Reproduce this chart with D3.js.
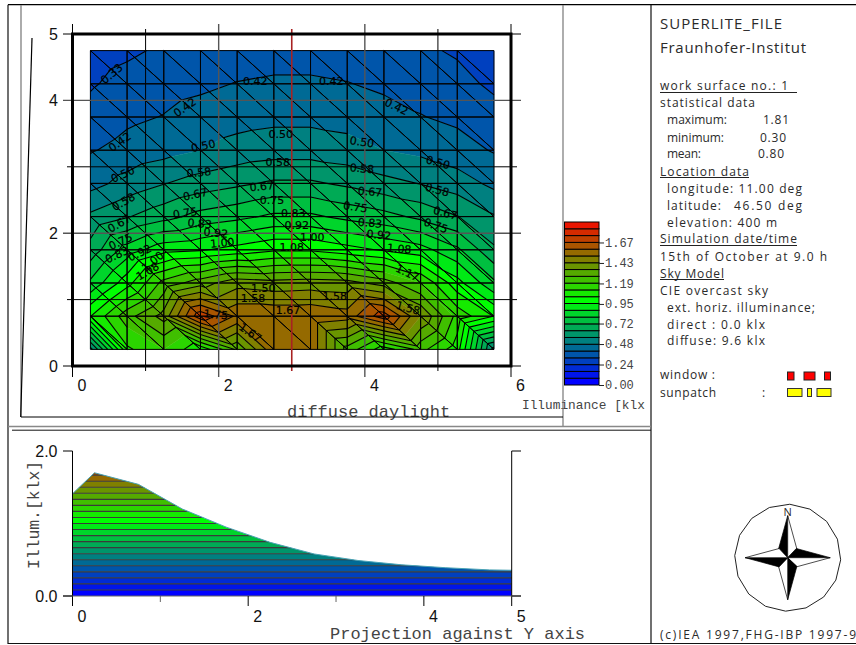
<!DOCTYPE html>
<html>
<head>
<meta charset="utf-8">
<style>
  html, body { margin: 0; padding: 0; background: #fff; }
  svg { display: block; }
  .panel { font-family: "Open Sans", sans-serif; fill: #2a2a2a; }
  .mono { font-family: "Liberation Mono", monospace; fill: #444; }
  .tick { font-family: "Liberation Sans", sans-serif; font-size: 16px; fill: #111; }
  .clabel { font-family: "DejaVu Sans", sans-serif; font-size: 11px; fill: #000; stroke: #000; stroke-width: 0.2; text-anchor: middle; dominant-baseline: central; }
</style>
<script src="https://cdn.jsdelivr.net/npm/d3@7"></script>
</head>
<body>
<svg id="chart" width="856" height="645"></svg>
<script>
// grid nodes of the work surface (room coordinates, m)
const xGrid = [0.245, 0.747, 1.249, 1.751, 2.253, 2.755, 3.257, 3.759, 4.261, 4.763, 5.265, 5.767];
const yGrid = [4.75, 4.25, 3.75, 3.25, 2.75, 2.25, 1.75, 1.25, 0.75, 0.25];

// illuminance [klx] on the nodes, one row per yGrid entry
const row0 = [0.30, 0.32, 0.345, 0.36, 0.37, 0.38, 0.38, 0.37, 0.36, 0.345, 0.325, 0.30];
const row1 = [0.325, 0.36, 0.385, 0.40, 0.42, 0.43, 0.43, 0.42, 0.40, 0.385, 0.355, 0.32];
const row2 = [0.36, 0.40, 0.42, 0.45, 0.47, 0.48, 0.48, 0.47, 0.45, 0.42, 0.40, 0.36];
const row3 = [0.41, 0.445, 0.47, 0.50, 0.53, 0.545, 0.545, 0.53, 0.50, 0.48, 0.45, 0.41];
const row4 = [0.47, 0.53, 0.58, 0.62, 0.65, 0.68, 0.68, 0.65, 0.61, 0.58, 0.54, 0.48];
const row5 = [0.60, 0.66, 0.72, 0.78, 0.81, 0.85, 0.85, 0.81, 0.78, 0.73, 0.67, 0.59];
const row6 = [0.70, 0.87, 0.97, 0.99, 1.03, 1.07, 1.07, 1.03, 0.99, 0.95, 0.85, 0.68];
const row7 = [0.85, 1.05, 1.28, 1.38, 1.47, 1.45, 1.46, 1.45, 1.38, 1.25, 1.03, 0.85];
const row8 = [1.08, 1.30, 1.45, 1.81, 1.65, 1.65, 1.65, 1.62, 1.80, 1.50, 1.22, 1.08];
const row9 = [0.55, 1.15, 1.25, 1.10, 1.35, 1.65, 1.65, 1.30, 1.12, 1.28, 1.12, 0.55];
const illum = [row0, row1, row2, row3, row4, row5, row6, row7, row8, row9];

const contourStep = 1 / 12;

// contour labels: text, then where they sit on the surface and their tilt
const labelTexts = ['0.33','0.42','0.42','0.42','0.42','0.42','0.50','0.50','0.50','0.50','0.50','0.58','0.58','0.58','0.58','0.58','0.67','0.67','0.67','0.67','0.67','0.75','0.75','0.75','0.75','0.75','0.83','0.83','0.83','0.83','0.92','0.92','0.92','0.92','1.00','1.00','1.00','1.08','1.08','1.08','1.17','1.50','1.58','1.58','1.58','1.67','1.75','1.67'];
const labelX = [.54,2.50,1.54,.65,3.54,4.43,1.79,2.85,.69,3.96,5.00,1.73,2.81,.70,3.96,4.99,1.68,2.59,.64,4.07,5.10,2.73,1.54,.66,3.87,4.97,1.74,3.02,.61,4.07,1.96,3.07,.92,4.19,2.05,3.28,1.10,1.03,3.00,4.47,4.58,2.61,2.47,3.59,4.59,2.95,1.96,2.43];
const labelY = [4.40,4.29,3.89,3.37,4.29,3.90,3.31,3.48,2.88,3.37,3.06,2.91,3.06,2.47,2.97,2.65,2.58,2.70,2.14,2.62,2.30,2.50,2.30,1.87,2.39,2.11,2.14,2.30,1.67,2.15,2.00,2.12,1.70,1.97,1.85,1.93,1.57,1.42,1.79,1.76,1.40,1.17,1.01,1.04,.87,.83,.77,.50];
const labelTilt = [-40,0,-35,-35,0,25,-12,0,-25,8,15,-5,0,-30,5,15,-12,-5,-30,5,15,0,-8,-25,8,20,5,0,-25,5,5,0,-25,5,-5,0,-40,-30,0,5,25,0,0,0,15,0,5,35];

// colour bar
const barCells = 24;
const barMax = 1.91;
const barTicks = [0, 0.24, 0.48, 0.72, 0.95, 1.19, 1.43, 1.67];

// projection against Y axis
const projY = [0, 0.25, 0.75, 1.25, 1.75, 2.25, 2.75, 3.25, 3.75, 4.25, 4.75, 5];
const projV = [1.41, 1.70, 1.54, 1.20, 0.95, 0.74, 0.58, 0.49, 0.43, 0.39, 0.36, 0.355];

// info panel: text, x, baseline, width
const panelLines = [
  ['work surface no.: 1', 660, 90, 128],
  ['statistical data', 660, 106.5, 95],
  ['maximum:', 667, 124, 60], ['1.81', 763, 124, 26],
  ['minimum:', 667, 141.5, 57], ['0.30', 760, 141.5, 26],
  ['mean:', 667, 157.5, 34], ['0.80', 758, 157.5, 26],
  ['Location data', 660, 175.5, 89],
  ['longitude: 11.00 deg', 667, 192.5, 135],
  ['latitude:', 667, 209.5, 54], ['46.50 deg', 734, 209.5, 68],
  ['elevation: 400 m', 667, 226.5, 110],
  ['Simulation date/time', 660, 243, 137],
  ['15th of October at 9.0 h', 660, 260.5, 167],
  ['Sky Model', 660, 277.5, 64],
  ['CIE overcast sky', 660, 295, 108],
  ['ext. horiz. illuminance;', 667, 312, 148],
  ['direct : 0.0 klx', 667, 328.5, 98],
  ['diffuse: 9.6 klx', 667, 345, 98],
  ['window :', 660, 379, 55],
  ['sunpatch', 660, 396.5, 56], [':', 762, 396.5, 2],
];
const panelRules = [[660, 797, 92.5], [660, 749, 177.5], [660, 797, 245.5], [660, 724, 279.5]];
const windowRects = [[787.5, 6.5], [804, 11], [824.5, 6]];
const sunRects = [[787.5, 14.5], [807.5, 4], [817, 14]];

const svg = d3.select('#chart');
const x = d3.scaleLinear().domain([0, 6]).range([72.5, 511]);
const y = d3.scaleLinear().domain([0, 5]).range([366, 34]);
const color = d3.scaleLinear().domain([0, 12, 24]).range(['#0000ff', '#00ff00', '#ff0000']);
const cellColor = k => color(k);

function hline(x1, x2, yy, col, w) {
  svg.append('line').attr('x1', x1).attr('x2', x2).attr('y1', yy).attr('y2', yy).attr('stroke', col).attr('stroke-width', w || 1);
}
function vline(xx, y1, y2, col, w) {
  svg.append('line').attr('x1', xx).attr('x2', xx).attr('y1', y1).attr('y2', y2).attr('stroke', col).attr('stroke-width', w || 1);
}

// clip a triangle to the part with value on the kept side of level
function clip(poly, level, keepAbove) {
  const out = [];
  poly.forEach((p, i) => {
    const q = poly[(i + 1) % poly.length];
    const pIn = keepAbove ? p[2] >= level : p[2] <= level;
    const qIn = keepAbove ? q[2] >= level : q[2] <= level;
    if (pIn) out.push(p);
    if (pIn !== qIn) {
      const t = (level - p[2]) / (q[2] - p[2]);
      out.push([p[0] + t * (q[0] - p[0]), p[1] + t * (q[1] - p[1]), level]);
    }
  });
  return out;
}

const triangles = [];
for (let r = 0; r < yGrid.length - 1; r++) {
  for (let c = 0; c < xGrid.length - 1; c++) {
    const node = (i, j) => [x(xGrid[j]), y(yGrid[i]), illum[i][j]];
    // the diagonal runs from upper left to lower right
    triangles.push([node(r, c), node(r, c + 1), node(r + 1, c + 1)]);
    triangles.push([node(r, c), node(r + 1, c + 1), node(r + 1, c)]);
  }
}

const gFill = svg.append('g');
const gMesh = svg.append('g');
const gContour = svg.append('g');
const polyPath = p => 'M' + p.map(d => d[0].toFixed(2) + ',' + d[1].toFixed(2)).join('L') + 'Z';

triangles.forEach(tri => {
  const vals = tri.map(d => d[2]);
  const kMin = Math.floor(d3.min(vals) / contourStep);
  const kMax = Math.floor(d3.max(vals) / contourStep);
  for (let k = kMin; k <= kMax; k++) {
    let p = clip(tri, k * contourStep, true);
    if (p.length) p = clip(p, (k + 1) * contourStep, false);
    if (p.length < 3) continue;
    gFill.append('path').attr('d', polyPath(p)).attr('fill', cellColor(k)).attr('stroke', cellColor(k)).attr('stroke-width', 0.4);
    if (k > kMin) {
      // contour line on the lower edge of this band
      const lv = k * contourStep;
      const seg = [];
      tri.forEach((a, i) => {
        const b = tri[(i + 1) % 3];
        if ((a[2] - lv) * (b[2] - lv) < 0) {
          const t = (lv - a[2]) / (b[2] - a[2]);
          seg.push([a[0] + t * (b[0] - a[0]), a[1] + t * (b[1] - a[1])]);
        }
      });
      if (seg.length === 2) {
        gContour.append('line').attr('x1', seg[0][0]).attr('y1', seg[0][1]).attr('x2', seg[1][0]).attr('y2', seg[1][1]).attr('stroke', '#000').attr('stroke-width', 1.1);
      }
    }
  }
  gMesh.append('path').attr('d', polyPath(tri)).attr('fill', 'none').attr('stroke', '#000').attr('stroke-width', 1);
});

// ticks, which also run through the plot
d3.range(0, 7).forEach(v => {
  const even = v % 2 === 0;
  const inner = v > 0 && v < 6;
  const col = v === 3 ? '#a82222' : (even && inner ? '#555' : '#000');
  vline(x(v), even ? 24 : 29, even ? 377 : 371, col, v === 3 ? 1.6 : (even && inner ? 1.4 : 1));
});
d3.range(0, 6).forEach(v => {
  const even = v % 2 === 0;
  const major = even || v === 5;
  const col = even && v > 0 ? '#555' : '#000';
  hline(major ? 63 : 67, major ? 521 : 517, y(v), col, even && v > 0 ? 1.4 : 1);
});

// thick frame of the work surface
svg.append('rect').attr('x', x(0)).attr('y', y(5)).attr('width', x(6) - x(0)).attr('height', y(0) - y(5))
  .attr('fill', 'none').attr('stroke', '#000').attr('stroke-width', 3);

labelTexts.forEach((t, i) => {
  svg.append('text').attr('class', 'clabel')
    .attr('transform', `translate(${x(labelX[i])},${y(labelY[i])}) rotate(${labelTilt[i]})`)
    .text(t);
});

[0, 2, 4, 6].forEach(v => {
  svg.append('text').attr('class', 'tick').attr('x', x(v) + 9.5).attr('y', 391).attr('text-anchor', 'middle').text(v);
});
[0, 2, 4, 5].forEach(v => {
  svg.append('text').attr('class', 'tick').attr('x', 58).attr('y', y(v) + 5.5).attr('text-anchor', 'end').text(v);
});

// colour bar
const barY = d3.scaleLinear().domain([0, barMax]).range([385, 222]);
const cellH = (barY(0) - barY(barMax)) / barCells;
d3.range(barCells).forEach(i => {
  svg.append('rect').attr('x', 564.5).attr('width', 34.5)
    .attr('y', barY(0) - (i + 1) * cellH).attr('height', cellH)
    .attr('fill', cellColor(i)).attr('stroke', '#000').attr('stroke-width', 1);
});
const barAxis = svg.append('g').attr('transform', 'translate(599,0)')
  .call(d3.axisRight(barY).tickValues(barTicks).tickSize(5).tickPadding(1).tickFormat(d3.format('.2f')));
barAxis.select('.domain').remove();
barAxis.selectAll('line').attr('stroke', '#222');
barAxis.selectAll('text').attr('class', 'mono').attr('font-size', 12).style('font-size', '12px').style('fill', '#444');

// projection chart
const px = d3.scaleLinear().domain([0, 5]).range([72.5, 511.7]);
const py = d3.scaleLinear().domain([0, 2]).range([596, 451]);
const area = d3.area().x((d, i) => px(projY[i])).y0(py(0)).y1(d => py(d));
svg.append('clipPath').attr('id', 'underCurve').append('path').attr('d', area(projV));
const gBands = svg.append('g').attr('clip-path', 'url(#underCurve)');
d3.range(0, Math.ceil(d3.max(projV) / contourStep)).forEach(k => {
  gBands.append('rect').attr('x', px(0)).attr('width', px(5) - px(0))
    .attr('y', py((k + 1) * contourStep)).attr('height', py(k * contourStep) - py((k + 1) * contourStep))
    .attr('fill', cellColor(k));
});
d3.range(1, Math.ceil(d3.max(projV) / contourStep)).forEach(k => {
  gBands.append('line').attr('x1', px(0)).attr('x2', px(5))
    .attr('y1', py(k * contourStep)).attr('y2', py(k * contourStep)).attr('stroke', '#3a3a3a').attr('stroke-width', 1.1);
});
svg.append('path').attr('d', d3.line().x((d, i) => px(projY[i])).y(d => py(d))(projV))
  .attr('fill', 'none').attr('stroke', '#4aa3b5').attr('stroke-width', 1);
vline(px(0), 451, 606, '#000');
vline(px(5), 451, 606, '#000');
hline(63, 72.5, py(2), '#000'); hline(511.7, 521, py(2), '#000');
hline(63, 521, py(0), '#666');
hline(63, 72.5, py(0), '#000'); hline(511.7, 521, py(0), '#000');
[1, 2, 3, 4].forEach(v => vline(px(v), 596, v % 2 ? 602 : 606, v % 2 ? '#666' : '#000'));
[0, 2, 4, 5].forEach(v => {
  svg.append('text').attr('class', 'tick').attr('x', px(v) + 9.5).attr('y', 621.5).attr('text-anchor', 'middle').text(v);
});
[0, 2].forEach(v => {
  svg.append('text').attr('class', 'tick').attr('x', 57.5).attr('y', py(v) + 5.5).attr('text-anchor', 'end').text(v.toFixed(1));
});

// mono captions
svg.append('text').attr('class', 'mono').attr('x', 287).attr('y', 416.5).attr('font-size', 17).text('diffuse daylight');
svg.append('text').attr('class', 'mono').attr('x', 522).attr('y', 409).attr('font-size', 12.8).text('Illuminance [klx');
svg.append('text').attr('class', 'mono').attr('x', 330).attr('y', 639).attr('font-size', 17).text('Projection against Y axis');
svg.append('text').attr('class', 'mono').attr('transform', 'translate(39,515) rotate(-90)').attr('text-anchor', 'middle').attr('font-size', 16.4).text('Illum.[klx]');

// page frames
hline(8, 856, 4.7, '#000', 1.2);
vline(8, 4.7, 644, '#111', 1.2);
vline(21, 5, 417, '#888', 1.4);
vline(563, 5, 426, '#777', 1.2);
vline(651, 5, 644, '#111', 1.2);
hline(21, 563, 417, '#000', 1);
hline(8, 651, 426.5, '#888', 1.5);
hline(12, 651, 430.2, '#111', 1);
hline(8, 856, 643.5, '#111', 1.2);
svg.append('line').attr('x1', 32).attr('y1', 38).attr('x2', 20.7).attr('y2', 417).attr('stroke', '#000').attr('stroke-width', 1.2);

// info panel
svg.append('text').attr('class', 'panel').attr('x', 660).attr('y', 29).attr('font-size', 15).attr('textLength', 122).text('SUPERLITE_FILE');
svg.append('text').attr('class', 'panel').attr('x', 660).attr('y', 52.5).attr('font-size', 15).attr('textLength', 146).text('Fraunhofer-Institut');
panelLines.forEach(d => {
  svg.append('text').attr('class', 'panel').attr('x', d[1]).attr('y', d[2]).attr('font-size', 12).attr('textLength', d[3]).text(d[0]);
});
panelRules.forEach(d => hline(d[0], d[1], d[2], '#222', 1));
windowRects.forEach(d => {
  svg.append('rect').attr('x', d[0]).attr('y', 372).attr('width', d[1]).attr('height', 8).attr('fill', '#ff0000').attr('stroke', '#222').attr('stroke-width', 1);
});
sunRects.forEach(d => {
  svg.append('rect').attr('x', d[0]).attr('y', 388.5).attr('width', d[1]).attr('height', 8).attr('fill', '#ffff00').attr('stroke', '#333').attr('stroke-width', 1);
});
svg.append('text').attr('class', 'panel').attr('x', 660).attr('y', 639).attr('font-size', 12).attr('textLength', 196).text('(c)IEA 1997,FHG-IBP 1997-9');

// compass
const cx = 787.7, cy = 557.7;
const ring = d3.range(16).map(i => {
  const a = (i + 0.1) / 16 * 2 * Math.PI;
  return [cx + 53 * Math.sin(a), cy - 53.5 * Math.cos(a)];
});
svg.append('path').attr('d', d3.line().curve(d3.curveLinearClosed)(ring)).attr('fill', '#fff').attr('stroke', '#222');
[0, 90, 180, 270].forEach(rot => {
  const g = svg.append('g').attr('transform', `translate(${cx},${cy}) rotate(${rot})`);
  const tip = rot % 180 === 0 ? 42 : 42.5;
  g.append('path').attr('d', `M0,0L0,${-tip}L-9.2,-8.6Z`).attr('fill', '#000').attr('stroke', '#000').attr('stroke-width', 0.7);
  g.append('path').attr('d', `M0,0L0,${-tip}L9.2,-8.6Z`).attr('fill', '#fff').attr('stroke', '#000').attr('stroke-width', 0.7);
});
svg.append('text').attr('class', 'panel').attr('x', cx).attr('y', 516).attr('text-anchor', 'middle').attr('font-size', 11).text('N');
</script>
</body>
</html>
